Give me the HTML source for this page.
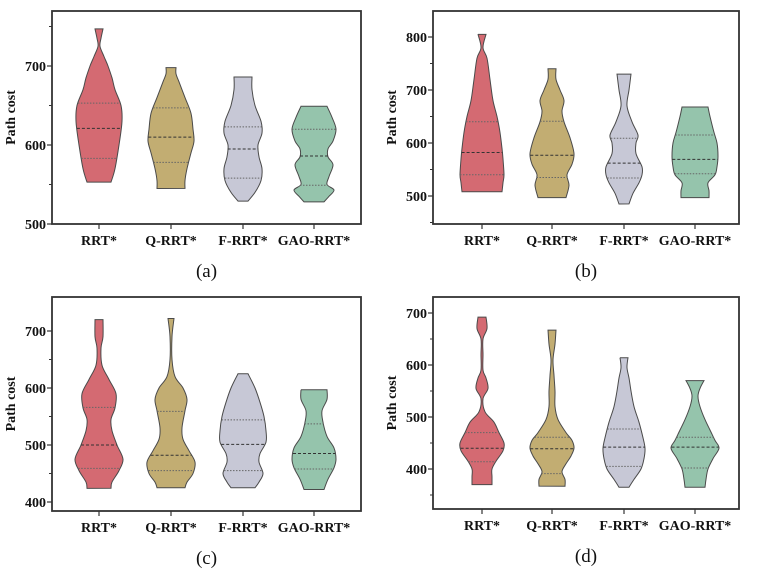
<!DOCTYPE html>
<html><head><meta charset="utf-8">
<style>
html,body{margin:0;padding:0;background:#fff;}
svg{display:block;}
text{font-family:"Liberation Serif","Times New Roman",serif;}
</style></head>
<body>
<svg id="fig" width="757" height="570" viewBox="0 0 757 570"></svg>
<script>
const categories = ["RRT*","Q-RRT*","F-RRT*","GAO-RRT*"];
const colors = ["#d46a72","#c2ad72","#c7c8d6","#95c4ac"];
const panelLabels = ["(a)","(b)","(c)","(d)"];
const panelTicks = [[500,600,700],[500,600,700,800],[400,500,600,700],[400,500,600,700]];

// Violin profiles: values (path cost) and half-width density (px)
const aVals = [
 [747,735,725,712,700,685,670,650,630,600,570,553],
 [698,690,680,660,640,620,605,590,570,555,545],
 [686,670,650,630,615,600,585,570,555,540,529],
 [649,635,620,605,595,585,575,560,550,543,535,528]];
const aDens = [
 [4,2,1,5,9,13,16,22,23,20,16,12],
 [5,5,8,14,20,22,23,20,16,14,14],
 [9,9,12,18,19,15,16,19,18,12,5],
 [13,18,22,19,14,14,19,15,13,20,15,10]];
const aQuart = [[583,621,653],[578,610,647],[558,595,623],[549,586,620]];

const bVals = [
 [805,780,760,720,680,650,620,590,570,540,525,508],
 [740,720,700,680,660,640,610,580,560,540,520,497],
 [730,700,670,640,615,600,580,555,540,525,505,485],
 [668,650,620,600,575,555,540,525,510,497]];
const bDens = [
 [4,1,5,8,11,15,18,20,21,22,21,20],
 [4,4,8,12,10,12,18,22,20,15,17,14],
 [7,5,3,8,14,12,12,18,18,15,9,5],
 [13,15,19,22,23,22,20,13,14,14]];
const bQuart = [[540,582,640],[535,577,641],[534,562,609],[542,569,615]];

const cVals = [
 [720,690,670,640,615,590,565,545,525,500,475,455,435,424],
 [722,690,650,620,600,580,560,530,510,490,470,450,435,425],
 [625,600,575,550,525,505,485,470,450,435,425],
 [597,580,560,540,515,495,475,460,440,422]];
const cDens = [
 [4,4,2,3,10,17,16,12,13,18,24,20,13,12],
 [3,1,1,4,12,16,14,11,12,18,24,22,16,14],
 [5,12,17,21,23,23,17,16,20,16,12],
 [13,13,8,9,13,20,22,20,14,10]];
const cQuart = [[459,500,566],[455,482,559],[455,501,544],[458,485,537]];

const dVals = [
 [692,670,650,620,590,575,555,535,510,490,470,450,435,415,400,385,370],
 [667,640,610,580,550,520,495,470,455,440,425,410,395,380,367],
 [614,595,575,550,520,490,460,440,420,400,380,365],
 [570,555,540,520,495,475,455,440,420,400,380,365]];
const dDens = [
 [4,5,1,1,1,4,6,1,3,12,17,22,21,14,10,10,10],
 [4,3,1,2,3,3,6,14,20,22,19,14,10,13,13],
 [4,3,5,7,10,15,19,21,20,17,10,5],
 [9,5,3,5,10,15,20,24,18,13,11,10]];
const dQuart = [[414,440,470],[391,439,461],[405,442,477],[402,442,461]];

const allVals=[aVals,bVals,cVals,dVals], allDens=[aDens,bDens,cDens,dDens], allQuart=[aQuart,bQuart,cQuart,dQuart];

// layout (not data)
const layout = [
 {l:52,t:11,r:361,b:224,v0:500,py0:224,k:0.79,cx:[99,171,243,314],minor:[550,650,750]},
 {l:433,t:11,r:739,b:224,v0:500,py0:196,k:0.53,cx:[482,552,624,695],minor:[450,550,650,750]},
 {l:52,t:297,r:361,b:511,v0:400,py0:502,k:0.57,cx:[99,171,243,314],minor:[450,550,650]},
 {l:433,t:297,r:739,b:509,v0:400,py0:469,k:0.52,cx:[482,552,624,695],minor:[350,450,550,650]}];

const NS="http://www.w3.org/2000/svg";
const svg=document.getElementById('fig');
const FONT='"Liberation Serif","Times New Roman",serif';
function mk(tag,attrs,parent){const e=document.createElementNS(NS,tag);for(const k in attrs)e.setAttribute(k,attrs[k]);if(tag==='text')e.setAttribute('font-family',FONT);(parent||svg).appendChild(e);return e;}

function smoothSide(pts){
  let d="";
  for(let i=0;i<pts.length-1;i++){
    const p0=pts[Math.max(0,i-1)],p1=pts[i],p2=pts[i+1],p3=pts[Math.min(pts.length-1,i+2)];
    const c1=[p1[0]+(p2[0]-p0[0])/6,p1[1]+(p2[1]-p0[1])/6];
    const c2=[p2[0]-(p3[0]-p1[0])/6,p2[1]-(p3[1]-p1[1])/6];
    d+=` C${c1[0].toFixed(1)},${c1[1].toFixed(1)} ${c2[0].toFixed(1)},${c2[1].toFixed(1)} ${p2[0].toFixed(1)},${p2[1].toFixed(1)}`;
  }
  return d;
}
function widthAt(vals,dens,v){
  for(let i=0;i<vals.length-1;i++){
    if(v<=vals[i]&&v>=vals[i+1]){const f=(vals[i]-v)/(vals[i]-vals[i+1]);return dens[i]+(dens[i+1]-dens[i])*f;}
  }
  return dens[dens.length-1];
}

layout.forEach((L,p)=>{
  const g=mk('g',{});
  
  
  const y=v=>L.py0-(v-L.v0)*L.k;
  allVals[p].forEach((vals,c)=>{
    const dens=allDens[p][c], cx=L.cx[c];
    const right=vals.map((v,i)=>[cx+dens[i],y(v)]);
    const left=vals.map((v,i)=>[cx-dens[i],y(v)]).reverse();
    let d=`M${left[left.length-1][0]},${left[left.length-1][1]} L${right[0][0]},${right[0][1]}`+smoothSide(right)+` L${left[0][0]},${left[0][1]}`+smoothSide(left)+"Z";
    const path=mk('path',{d:d,fill:colors[c],stroke:"#4a4a4a","stroke-width":1},g);
    
    
    allQuart[p][c].forEach((q,qi)=>{
      const w=widthAt(vals,dens,q);
      const ln=mk('line',{x1:cx-w,x2:cx+w,y1:y(q),y2:y(q),stroke:qi==1?"#333":"#666","stroke-width":1,"stroke-dasharray":qi==1?"3,2":"1.5,1.5"},g);
      
      
    });
  });
  const fr=mk('rect',{x:L.l,y:L.t,width:L.r-L.l,height:L.b-L.t,fill:"none",stroke:"#333","stroke-width":1.8},g);
  
  
  panelTicks[p].forEach(t=>{
    mk('line',{x1:L.l-5,x2:L.l,y1:y(t),y2:y(t),stroke:"#333","stroke-width":1.2},g);
    const tx=mk('text',{x:L.l-6,y:y(t)+5,"text-anchor":"end","font-size":14,"font-weight":"bold",fill:"#111"},g);
    tx.textContent=t;
    
    
  });
  L.minor.forEach(t=>{const yy=y(t);if(yy>L.t&&yy<L.b)mk('line',{x1:L.l-3,x2:L.l,y1:yy,y2:yy,stroke:"#333","stroke-width":1},g);});
  categories.forEach((cat,c)=>{
    mk('line',{x1:L.cx[c],x2:L.cx[c],y1:L.b,y2:L.b+5,stroke:"#333","stroke-width":1.2},g);
    const tx=mk('text',{x:L.cx[c],y:L.b+21,"text-anchor":"middle","font-size":14,"font-weight":"bold",fill:"#111"},g);
    tx.textContent=cat;
    
    
  });
  const yt=mk('text',{x:0,y:0,"text-anchor":"middle","font-size":14,"font-weight":"bold",fill:"#111",transform:`translate(${L.l-37},${(L.t+L.b)/2}) rotate(-90)`},g);
  yt.textContent="Path cost";
  
  
  const pl=mk('text',{x:(L.l+L.r)/2,y:L.b+53,"text-anchor":"middle","font-size":19,fill:"#111"},g);
  pl.textContent=panelLabels[p];
  
  
});
</script>
</body></html>
